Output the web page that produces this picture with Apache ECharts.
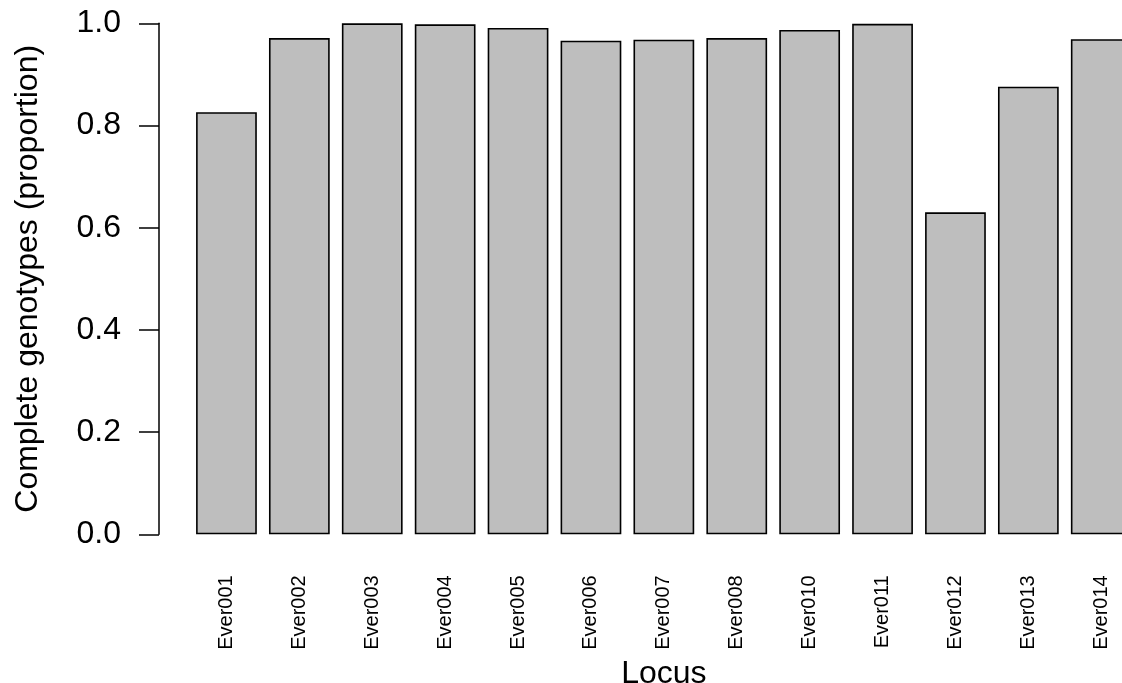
<!DOCTYPE html>
<html lang="en">
  <head>
    <meta charset="UTF-8" />
    <title>Complete genotypes by locus</title>
    <style>
      * {
        margin: 0;
        padding: 0;
        box-sizing: border-box;
      }
      #main {
        width: 1122px;
        height: 683px;
        background-color: #ffffff;
      }
    </style>
  </head>
  <body>
    <div id="main"></div>
    <script src="https://cdn.jsdelivr.net/npm/echarts@6/dist/echarts.min.js"></script>
    <script>
      const myChart = echarts.init(document.getElementById("main"));
      // 位点名称与完整基因型比例
      const loci = [
        "Ever001", "Ever002", "Ever003", "Ever004", "Ever005", "Ever006", "Ever007",
        "Ever008", "Ever010", "Ever011", "Ever012", "Ever013", "Ever014",
      ];
      const proportions = [
        0.826, 0.971, 1.0, 0.998, 0.991, 0.966, 0.968,
        0.971, 0.987, 0.999, 0.63, 0.876, 0.969,
      ];
      const yTicks = { min: 0, max: 1, interval: 0.2 };

      const font = "'Liberation Sans', Arial, Helvetica, sans-serif";

      const option = {
        animation: false,
        textStyle: { fontFamily: font, color: "#000" },
        grid: {
          left: 190,
          top: 23.3,
          width: 947.7, // 最后一根柱子超出画布右侧
          height: 511,
          outerBoundsMode: "none",
          containLabel: false,
        },
        xAxis: {
          type: "category",
          data: loci,
          name: "Locus",
          nameLocation: "middle",
          nameGap: 116,
          nameTextStyle: { fontSize: 32, color: "#000", fontFamily: font },
          axisLine: { show: false },
          axisTick: { show: false },
          axisLabel: {
            interval: 0,
            rotate: 90,
            fontSize: 20,
            margin: 41,
            color: "#000",
            fontFamily: font,
          },
        },
        yAxis: {
          type: "value",
          min: yTicks.min,
          max: yTicks.max,
          interval: yTicks.interval,
          offset: 31,
          name: "Complete genotypes (proportion)",
          nameLocation: "middle",
          nameRotate: 90,
          nameGap: 115,
          nameTextStyle: { fontSize: 32, color: "#000", fontFamily: font },
          axisLine: { show: true, lineStyle: { color: "#000", width: 1.5 } },
          axisTick: { show: true, length: 20, lineStyle: { color: "#000", width: 1.5 } },
          axisLabel: {
            fontSize: 32,
            margin: 38,
            color: "#000",
            fontFamily: font,
            formatter: (v) => v.toFixed(1),
          },
          splitLine: { show: false },
        },
        series: [
          {
            type: "bar",
            data: proportions,
            barWidth: 60.75,
            itemStyle: {
              color: "#bebebe",
              borderColor: "#000",
              borderWidth: 1.6,
            },
          },
        ],
      };
      myChart.setOption(option);
    </script>
  </body>
</html>
